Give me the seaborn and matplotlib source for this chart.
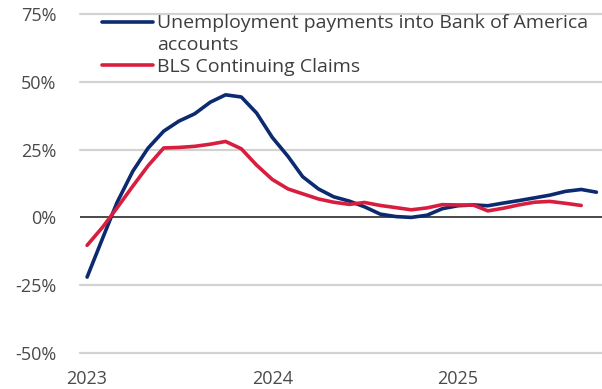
import matplotlib
matplotlib.use("Agg")
import matplotlib.pyplot as plt
import seaborn as sns
import pandas as pd
import numpy as np
from matplotlib.lines import Line2D
from matplotlib.legend_handler import HandlerLine2D

# ---- data (year-over-year % change, monthly) ----
months_boa = pd.date_range("2023-01-01", periods=34, freq="MS")
boa_payments = [-22.0, -7.5, 5.5, 17.0, 25.5, 31.8, 35.5, 38.2, 42.5, 45.2, 44.4, 38.5,
                29.5, 22.5, 15.0, 10.5, 7.6, 6.0, 3.9, 1.2, 0.3, 0.0, 0.8, 3.2,
                4.3, 4.6, 4.3, 5.3, 6.2, 7.2, 8.2, 9.6, 10.3, 9.3]
months_bls = pd.date_range("2023-01-01", periods=33, freq="MS")
bls_claims = [-10.3, -3.5, 3.5, 11.5, 19.0, 25.6, 25.8, 26.2, 27.0, 28.0, 25.3, 19.3,
              14.0, 10.5, 8.7, 6.8, 5.6, 4.8, 5.5, 4.4, 3.6, 2.8, 3.5, 4.7,
              4.6, 4.5, 2.4, 3.4, 4.6, 5.6, 5.9, 5.2, 4.4]
series_labels = ["Unemployment payments into Bank of America\naccounts",
                 "BLS Continuing Claims"]
y_ticks = [-50, -25, 0, 25, 50, 75]
x_tick_years = ["2023", "2024", "2025"]

df = pd.concat([
    pd.DataFrame({"date": months_boa, "value": boa_payments, "series": series_labels[0]}),
    pd.DataFrame({"date": months_bls, "value": bls_claims, "series": series_labels[1]}),
])

sns.set_theme(style="white")
plt.rcParams["font.family"] = ["Open Sans", "DejaVu Sans"]

fig = plt.figure(figsize=(6.02, 3.89), dpi=100)
ax = fig.add_axes([80 / 602, 1 - 353 / 389, 1 - 80 / 602, (353 - 14) / 389])

palette = {series_labels[0]: "#0b2a6f", series_labels[1]: "#d81e3f"}

for yv in y_ticks:
    if yv == 0:
        ax.axhline(yv, color="#3a3a3a", lw=1.3, zorder=1)
    else:
        ax.axhline(yv, color="#d2d2d2", lw=1.6, zorder=0, clip_on=False)

sns.lineplot(data=df, x="date", y="value", hue="series", palette=palette,
             lw=2.6, ax=ax, zorder=3, legend=False)

ax.set_ylim(-50, 75)
ax.set_yticks(y_ticks)
ax.set_yticklabels([f"{v}%" for v in y_ticks])
ax.set_xlim(pd.Timestamp("2022-12-18"), pd.Timestamp("2025-10-12"))
ax.set_xticks([pd.Timestamp(f"{y}-01-01") for y in x_tick_years])
ax.set_xticklabels(x_tick_years)
ax.set_xlabel("")
ax.set_ylabel("")
for s in ax.spines.values():
    s.set_visible(False)
ax.tick_params(axis="both", length=0, labelsize=13, colors="#4a4a4a")
ax.tick_params(axis="y", pad=17)
ax.tick_params(axis="x", pad=12)


class TopLineHandler(HandlerLine2D):
    """Place the legend line beside the first line of a two-line label."""
    def __init__(self, shift, **kw):
        super().__init__(**kw)
        self.shift = shift

    def create_artists(self, legend, orig_handle, xdescent, ydescent, width,
                       height, fontsize, trans):
        arts = super().create_artists(legend, orig_handle, xdescent, ydescent,
                                      width, height, fontsize, trans)
        for a in arts:
            a.set_ydata(np.asarray(a.get_ydata()) + self.shift)
        return arts


handles = [Line2D([], [], color=palette[l], lw=2.6) for l in series_labels]
leg = ax.legend(handles, series_labels, loc="upper left",
                bbox_to_anchor=(92 / 602, 1 - 4 / 389), bbox_transform=fig.transFigure,
                frameon=False, fontsize=14, handlelength=2.65, handletextpad=0.2,
                borderpad=0, labelspacing=0.2,
                handler_map={handles[0]: TopLineHandler(shift=8.3)})
for t in leg.get_texts():
    t.set_color("#3e3e3e")
    t.set_linespacing(1.3)

fig.savefig("out.png", dpi=100)
